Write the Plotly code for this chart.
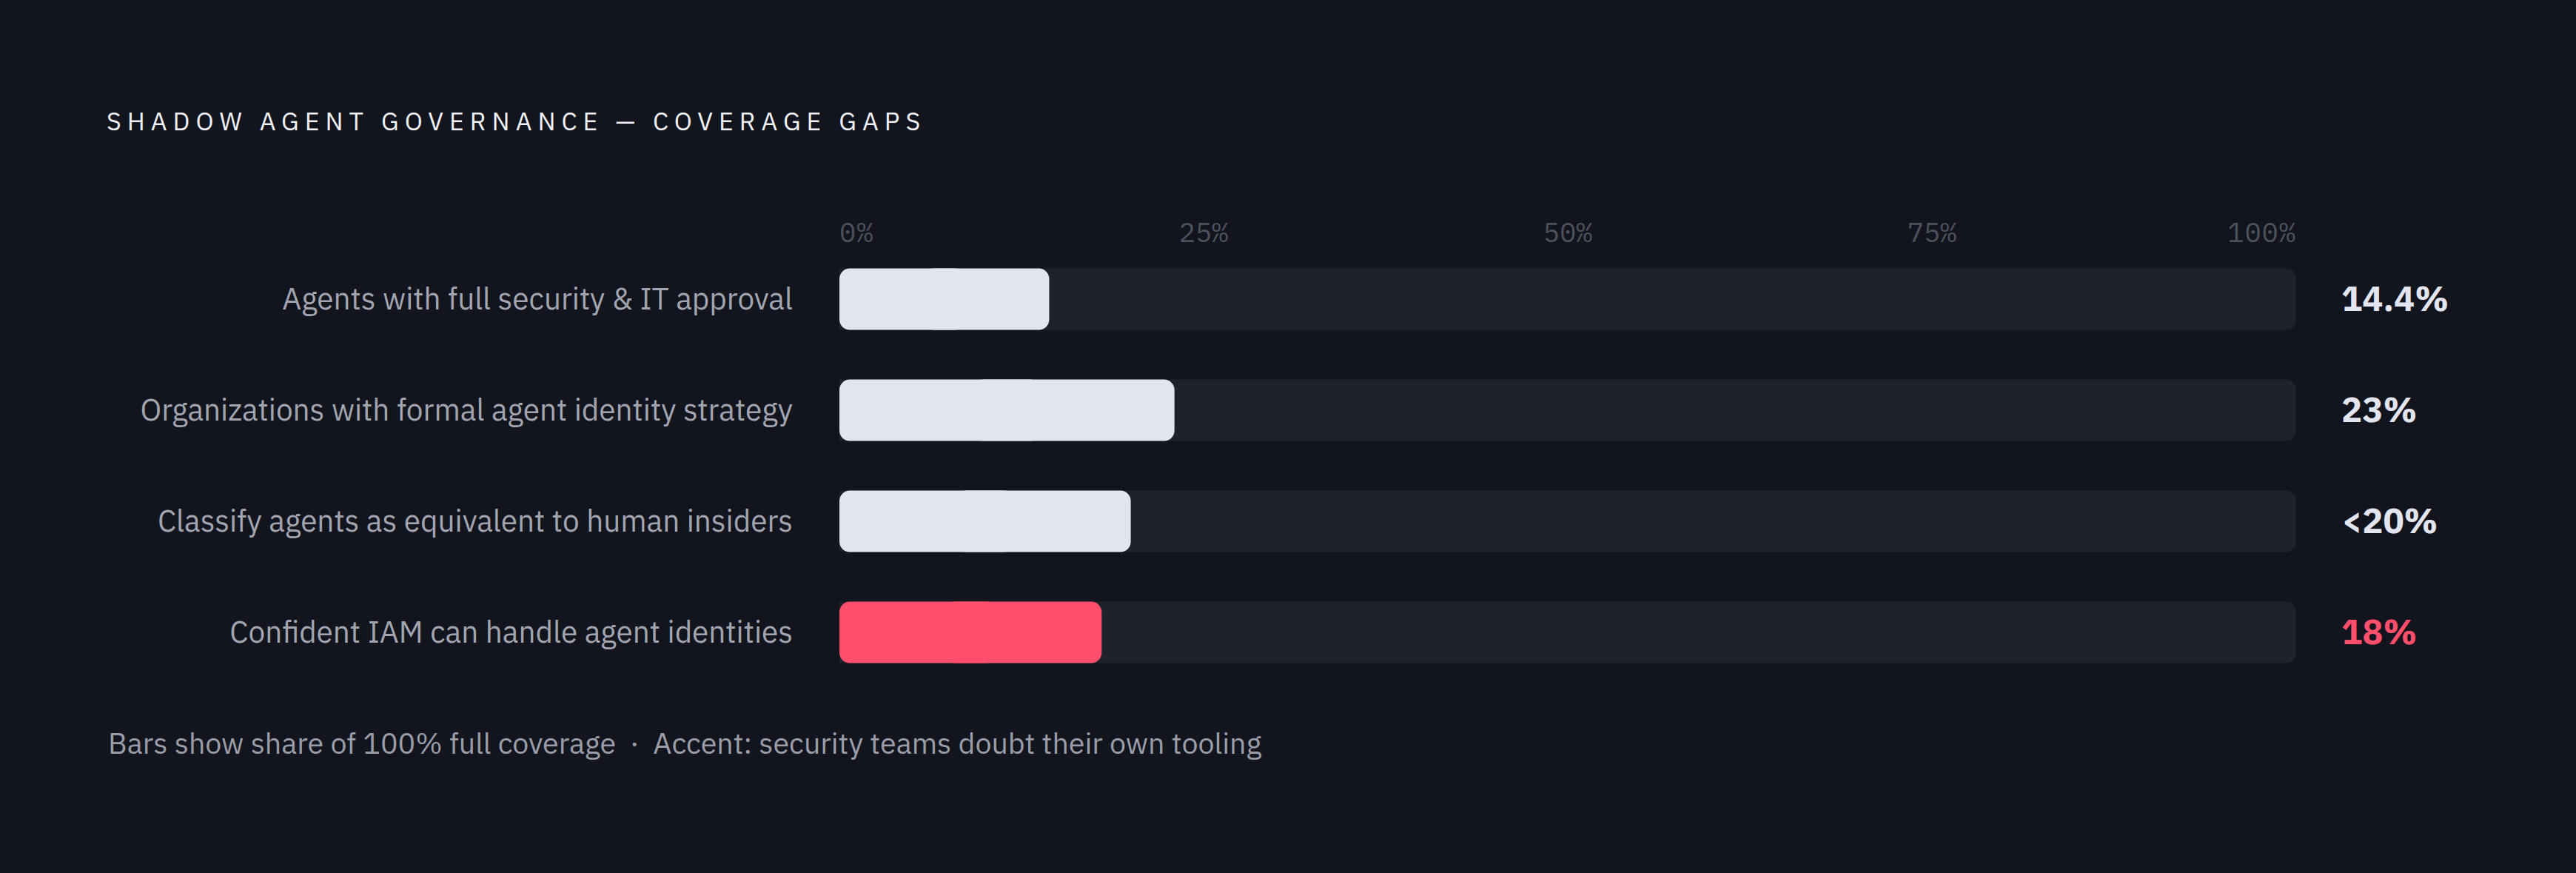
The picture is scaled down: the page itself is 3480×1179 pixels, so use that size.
import plotly.graph_objects as go

# data
categories = [
    "Agents with full security & IT approval",
    "Organizations with formal agent identity strategy",
    "Classify agents as equivalent to human insiders",
    "Confident IAM can handle agent identities",
]
values = [14.4, 23, 20, 18]
value_labels = ["14.4%", "23%", "<20%", "18%"]
accent = [False, False, False, True]
full_scale = [100, 100, 100, 100]
mid_ticks = [25, 50, 75]
mid_tick_text = ["25%", "50%", "75%"]

BG = "#12151d"
TRACK = "#1f222b"
BAR = "#e2e4f0"
ACCENT = "#ff4f6d"
SANS = "IBM Plex Sans, Inter, Noto Sans, sans-serif"
MONO = "IBM Plex Mono, DejaVu Sans Mono, monospace"

bar_colors = [ACCENT if a else BAR for a in accent]
right_text = [
    f'<span style="color:{ACCENT}">{t}</span>' if a else t
    for t, a in zip(value_labels, accent)
]

def spaced(t, px):
    return f'<span style="letter-spacing:{px}px">{t}</span>'

# each value bar is drawn in two overlapping halves so both ends get rounded
left_len = [v * 0.6 for v in values]
right_base = [v * 0.4 for v in values]
right_len = [v - b for v, b in zip(values, right_base)]

fig = go.Figure()

# background tracks
fig.add_trace(go.Bar(
    x=full_scale, y=categories, orientation="h",
    marker=dict(color=TRACK, cornerradius=14, line=dict(width=0)),
    width=0.553, hoverinfo="skip", showlegend=False,
))

# left half (drawn from its far end back to 0, rounding the 0 side)
fig.add_trace(go.Bar(
    x=[-l for l in left_len], base=left_len, y=categories, orientation="h",
    xaxis="x2", yaxis="y2",
    marker=dict(color=bar_colors, cornerradius=14, line=dict(width=0)),
    width=0.553, showlegend=False, hoverinfo="skip",
))

# right half (rounded at the value end)
fig.add_trace(go.Bar(
    x=right_len, base=right_base, y=categories, orientation="h",
    xaxis="x2", yaxis="y2",
    marker=dict(color=bar_colors, cornerradius=14, line=dict(width=0)),
    width=0.553, showlegend=False, hoverinfo="skip",
))

# invisible hover layer at the bar ends
fig.add_trace(go.Scatter(
    x=values, y=categories, xaxis="x3", yaxis="y2", mode="markers",
    marker=dict(size=1, opacity=0), showlegend=False,
    hovertemplate="%{y}: %{x}%<extra></extra>",
))

tick_font = dict(family=MONO, size=37, color="#4d515b")
axis_common = dict(
    range=[0, 100], side="top", tickfont=tick_font, showgrid=False,
    zeroline=False, showline=False, ticks="", ticklabelstandoff=0,
    anchor="free", position=1 - 5 / 600, fixedrange=True,
)

fig.update_layout(
    width=3480, height=1179,
    paper_bgcolor=BG, plot_bgcolor=BG,
    margin=dict(l=1134, r=378, t=329, b=250),
    barmode="overlay",
    title=dict(
        text=spaced("SHADOW AGENT GOVERNANCE \u2014 COVERAGE GAPS", 8),
        font=dict(family=SANS, size=34, color="#f0f1f6"),
        xref="container", yref="container",
        x=144 / 3480, y=1 - 164 / 1179, xanchor="left", yanchor="middle",
    ),
    xaxis=dict(
        tickvals=[0], ticktext=[spaced("0%", 1)],
        ticklabelposition="outside right", **axis_common,
    ),
    xaxis2=dict(
        overlaying="x",
        tickvals=[100], ticktext=[spaced("100%", 1)],
        ticklabelposition="outside left", **axis_common,
    ),
    xaxis3=dict(
        overlaying="x",
        tickvals=mid_ticks, ticktext=mid_tick_text,
        **axis_common,
    ),
    yaxis=dict(
        categoryorder="array", categoryarray=categories, autorange="reversed",
        tickfont=dict(family=SANS, size=40.5, color="#a2a5b0"),
        ticklabelstandoff=62, showgrid=False, zeroline=False, showline=False,
        ticks="", fixedrange=True,
    ),
    yaxis2=dict(
        overlaying="y", anchor="x", side="right",
        categoryorder="array", categoryarray=categories, autorange="reversed",
        tickmode="array", tickvals=categories, ticktext=right_text,
        tickfont=dict(family=SANS, size=47, color=BAR, weight="bold"),
        ticklabelstandoff=60, showgrid=False, zeroline=False, showline=False,
        ticks="", fixedrange=True,
    ),
    annotations=[dict(
        text="Bars show share of 100% full coverage  \u00b7  Accent: security teams doubt their own tooling",
        xref="paper", yref="paper", x=(144 - 1134) / 1968, y=(929 - 1003) / 600,
        xanchor="left", yanchor="middle", showarrow=False,
        font=dict(family=SANS, size=39.4, color="#9a9da8"),
    )],
)

fig.write_html(
    "out.html",
    config={"displayModeBar": False},
    post_script="document.body.style.margin='0';document.body.style.background='#12151d';",
)
